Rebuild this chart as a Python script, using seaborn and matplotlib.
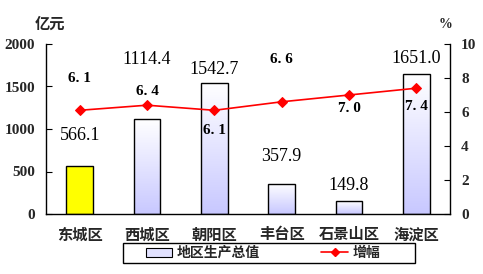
import numpy as np
import pandas as pd
import matplotlib
matplotlib.use("Agg")
import matplotlib.pyplot as plt
import seaborn as sns
from matplotlib.patches import Patch, Rectangle
from matplotlib.lines import Line2D

districts = ["东城区", "西城区", "朝阳区", "丰台区", "石景山区", "海淀区"]
gdp = [566.1, 1114.4, 1542.7, 357.9, 149.8, 1651.0]
growth = [6.1, 6.4, 6.1, 6.6, 7.0, 7.4]
gdp_labels = ["566.1", "1114.4", "1542.7", "357.9", "149.8", "1651.0"]
growth_labels = ["6. 1", "6. 4", "6. 1", "6. 6", "7. 0", "7. 4"]
left_ticks = [0, 500, 1000, 1500, 2000]
right_ticks = [0, 2, 4, 6, 8, 10]

sns.set_theme(style="white")
plt.rcParams['font.family'] = ['Noto Sans CJK SC', 'DejaVu Sans']
plt.rcParams['font.weight'] = 'bold'

fig = plt.figure(figsize=(4.83, 2.74), dpi=100)
ax1 = fig.add_axes([46/483, 1-214/274, (450-46)/483, (214-44)/274])
df = pd.DataFrame({"d": districts, "g": gdp})
sns.barplot(data=df, x="d", y="g", ax=ax1, width=0.4, color="white",
            edgecolor="black", linewidth=1.0, zorder=2)
ax1.set_xlim(-0.5, 5.5)
ax1.set_ylim(0, 2000)

# gradient fill
grad = np.linspace(0, 1, 100).reshape(-1, 1)
top_c = np.array([1.0, 1.0, 1.0])
bot_c = np.array([200/255, 200/255, 1.0])
img = top_c * grad + bot_c * (1 - grad)
img = img.reshape(100, 1, 3)
for i, p in enumerate(ax1.patches):
    x0, y0 = p.get_x(), p.get_y()
    w, h = p.get_width(), p.get_height()
    if i == 0:
        p.set_facecolor("#ffff00")
    else:
        p.set_facecolor("none")
        ax1.imshow(img, extent=[x0, x0 + w, y0, y0 + h], origin="lower",
                   aspect="auto", zorder=1.5)
ax1.set_xlim(-0.5, 5.5)
ax1.set_ylim(0, 2000)

ax2 = ax1.twinx()
sns.lineplot(x=np.arange(len(growth)), y=growth, ax=ax2, color="red",
             marker="D", markersize=5, markeredgecolor="red", linewidth=1.2)
ax2.set_ylim(0, 10)
ax2.set_xlim(-0.5, 5.5)

numfont = dict(family="Liberation Serif", weight="bold")
ax1.set_yticks(left_ticks)
ax1.set_yticklabels([str(t) for t in left_ticks], fontsize=11, **numfont)
ax2.set_yticks(right_ticks)
ax2.set_yticklabels([str(t) for t in right_ticks], fontsize=11, **numfont)
ax1.set_xticks(range(len(districts)))
ax1.set_xticklabels(districts, fontsize=11, fontweight="bold",
                    family=['Noto Sans CJK SC', 'DejaVu Sans'])
ax1.set_xticks(np.arange(0.5, 5.5, 1.0), minor=True)
ax1.tick_params(axis="x", which="major", length=0, pad=9)
ax1.tick_params(axis="x", which="minor", length=3, direction="in", color="black", width=0.8)
ax1.tick_params(axis="y", direction="in", length=4, color="black", width=0.8, pad=8, left=True)
ax2.tick_params(axis="y", direction="in", length=4, color="black", width=0.8, pad=8, right=True)
ax1.set_xlabel("")
ax1.set_ylabel("")
ax2.set_ylabel("")

for ax in (ax1, ax2):
    ax.spines["top"].set_visible(False)
    for s in ("left", "right", "bottom"):
        ax.spines[s].set_color("black")
        ax.spines[s].set_linewidth(1.0)
ax1.spines["right"].set_visible(False)
ax2.spines["left"].set_visible(False)
ax2.spines["bottom"].set_visible(False)

# data labels (offsets in pixels from value)
gdp_offsets = [30, 60, 13, 27, 16, 15]
for i, (v, lab, off) in enumerate(zip(gdp, gdp_labels, gdp_offsets)):
    ax1.annotate(lab, (i, v), xytext=(0, off), textcoords="offset pixels",
                 ha="center", va="center", fontsize=13, family="Liberation Serif",
                 fontweight="normal", color="black")
growth_offsets = [32, 14, -20, 42, -13, -18]
for i, (v, lab, off) in enumerate(zip(growth, growth_labels, growth_offsets)):
    ax2.annotate(lab, (i, v), xytext=(0, off), textcoords="offset pixels",
                 ha="center", va="center", fontsize=11, family="Liberation Serif",
                 fontweight="bold", color="black")

fig.text(50/483, 1-24/274, "亿元", fontsize=11, fontweight="bold", ha="center", va="center",
         style="italic", family=['Noto Sans CJK SC', 'DejaVu Sans'])
fig.text(445/483, 1-24/274, "%", fontsize=10, fontweight="bold", ha="center", va="center",
         family="Liberation Serif")

# legend frame
fig.patches.append(Rectangle((123/483, 1-263/274), (415-123)/483, 20/274,
                             transform=fig.transFigure, facecolor="white",
                             edgecolor="black", linewidth=1.0, zorder=0))
handles = [Patch(facecolor="#e2e2ff", edgecolor="black", linewidth=0.8, label="地区生产总值"),
           Line2D([0], [0], color="red", marker="D", markersize=4, linewidth=1.2, label="增幅")]
leg = fig.legend(handles=handles, loc="center", bbox_to_anchor=(263/483, 1-253/274),
                 ncol=2, frameon=False, columnspacing=4.4,
                 handlelength=1.9, handleheight=0.6, handletextpad=0.35, borderpad=0.2,
                 prop=dict(family=['Noto Sans CJK SC', 'DejaVu Sans'], weight="bold", size=10))

fig.savefig("out.png", dpi=100)
